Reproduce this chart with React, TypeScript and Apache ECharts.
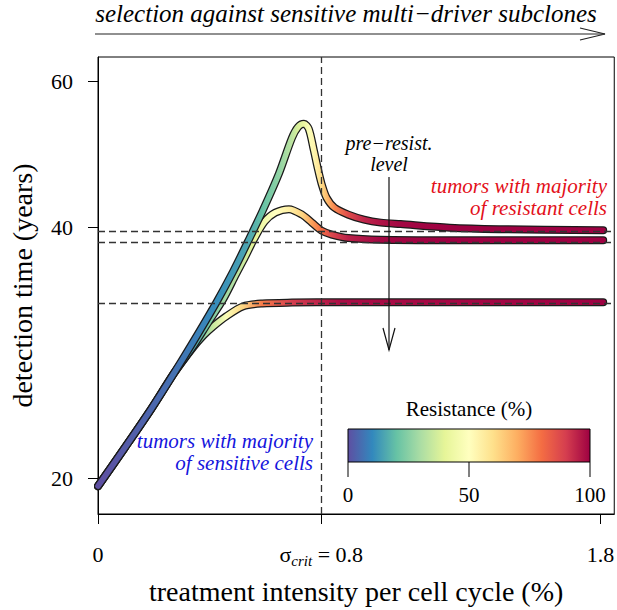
import React, { useEffect, useRef } from "react";
import * as echarts from "echarts";

// ---- data -----------------------------------------------------------
const xTicks = [0, 0.8, 1.8];
const yTicks = [20, 40, 60];
const legendTicks = [0, 50, 100];
const sigmaCrit = 0.8;
const preResistLevels = [39.71, 38.63, 32.55];

// curve A (highest peak)
const xA = [0, 0.095, 0.19, 0.272, 0.342, 0.424, 0.484, 0.537, 0.59, 0.648, 0.695, 0.717, 0.738, 0.755, 0.773, 0.787, 0.801, 0.819, 0.847, 0.897, 0.953, 1.013, 1.084, 1.26, 1.437, 1.81];
const yA = [19.56, 21.73, 24.2, 26.73, 29.2, 32.52, 35.43, 38.49, 41.93, 46.44, 51.3, 52.88, 53.33, 52.6, 49.62, 47.21, 45.17, 43.46, 42.28, 41.47, 40.91, 40.57, 40.4, 40.0, 39.84, 39.72];
const rA = [0, 2, 4, 6, 8, 11, 13, 15, 20, 26, 33, 38, 42, 48, 53, 57, 61, 67, 76, 87, 94, 97, 99, 100, 100, 100];

// curve B (middle)
const xB = [0, 0.095, 0.19, 0.272, 0.342, 0.395, 0.448, 0.494, 0.526, 0.558, 0.597, 0.635, 0.684, 0.731, 0.766, 0.801, 0.837, 0.897, 1.013, 1.26, 1.81];
const yB = [19.56, 21.73, 24.2, 26.73, 28.85, 30.77, 32.79, 35.14, 36.83, 38.7, 40.68, 41.7, 42.11, 41.47, 40.57, 39.68, 39.25, 38.87, 38.68, 38.63, 38.63];
const rB = [0, 2, 4, 7, 15, 22, 28, 32, 36, 40, 45, 50, 55, 62, 72, 80, 88, 95, 99, 100, 100];

// curve C (lowest)
const xC = [0, 0.095, 0.19, 0.272, 0.342, 0.378, 0.413, 0.459, 0.519, 0.589, 0.695, 0.872, 1.81];
const yC = [19.56, 21.73, 24.2, 26.73, 28.75, 29.69, 30.44, 31.29, 32.17, 32.43, 32.51, 32.55, 32.55];
const rC = [0, 2, 4, 7, 16, 25, 35, 48, 62, 78, 90, 98, 100];

const spectral = ["#5E4FA2", "#3288BD", "#66C2A5", "#ABDDA4", "#E6F598", "#FFFFBF", "#FEE08B", "#FDAE61", "#F46D43", "#D53E4F", "#9E0142"];

// ---- helpers --------------------------------------------------------
const FONT = "'Liberation Serif', 'DejaVu Serif', serif";

function hexToRgb(h: string) {
  const n = parseInt(h.slice(1), 16);
  return [(n >> 16) & 255, (n >> 8) & 255, n & 255];
}
function colorAt(r: number) {
  const t = Math.max(0, Math.min(100, r)) / 10;
  const i = Math.min(9, Math.floor(t));
  const f = t - i;
  const a = hexToRgb(spectral[i]);
  const b = hexToRgb(spectral[i + 1]);
  const c = a.map((v, k) => Math.round(v + (b[k] - v) * f));
  return `rgb(${c[0]},${c[1]},${c[2]})`;
}

function curveSeries(name: string, xs: number[], ys: number[], rs: number[], z: number) {
  const data = xs.map((x, i) => [x, Math.log(ys[i])]);
  const x0 = xs[0];
  const x1 = xs[xs.length - 1];
  const stops = xs.map((x, i) => ({ offset: (x - x0) / (x1 - x0), color: colorAt(rs[i]) }));
  const common = {
    type: "line",
    data,
    symbol: "none",
    showSymbol: false,
    smooth: 0.3,
    silent: true,
  };
  return [
    { ...common, name: name + " outline", z, lineStyle: { color: "#1a1a1a", width: 8, cap: "round", join: "round" } },
    {
      ...common,
      name,
      z: z + 1,
      lineStyle: { color: new echarts.graphic.LinearGradient(0, 0, 1, 0, stops), width: 5.5, cap: "round", join: "round" },
    },
  ];
}

export default function App() {
  const ref = useRef<HTMLDivElement>(null);

  useEffect(() => {
    if (!ref.current) return;
    const chart = echarts.init(ref.current, null, { renderer: "svg" });

    const yMin = Math.log(20) - 36 / 362;
    const yMax = Math.log(20) + 422 / 362;
    const xMax = 1.8496;

    const dashStyle = { color: "#333", width: 1.3, type: [7, 4] };

    const legX = 348, legY = 429, legW = 242, legH = 33;

    const txt = (x: number, y: number, text: string, font: string, fill: string, align: string, lineHeight?: number) => ({
      type: "text",
      x,
      y,
      z: 20,
      style: { text, font, fill, textAlign: align, textVerticalAlign: "middle", lineHeight },
    });

    const graphic: any[] = [
      // top annotation
      txt(346, 13, "selection against sensitive multi\u2212driver subclones", `italic 25px ${FONT}`, "#000", "center"),
      { type: "line", z: 20, shape: { x1: 95, y1: 34, x2: 605, y2: 34 }, style: { stroke: "#222", lineWidth: 1.2 } },
      { type: "polyline", z: 20, shape: { points: [[580, 28], [605, 34], [580, 40]] }, style: { stroke: "#222", lineWidth: 1.2, fill: "none" } },
      // pre-resist arrow
      txt(389, 153, "pre\u2212resist.\nlevel", `italic 20px ${FONT}`, "#000", "center", 21),
      { type: "line", z: 20, shape: { x1: 389, y1: 177, x2: 389, y2: 350 }, style: { stroke: "#111", lineWidth: 1.2 } },
      { type: "polyline", z: 20, shape: { points: [[383, 328], [389, 350], [395, 328]] }, style: { stroke: "#111", lineWidth: 1.2, fill: "none" } },
      // red labels
      txt(607, 197, "tumors with majority\nof resistant cells", `italic 21px ${FONT}`, "#e3101a", "right", 22),
      // blue labels
      txt(313, 452, "tumors with majority\nof sensitive cells", `italic 21px ${FONT}`, "#1515dd", "right", 22),
      // colour legend
      txt(legX + legW / 2, 409, "Resistance (%)", `21px ${FONT}`, "#000", "center"),
      {
        type: "rect",
        z: 20,
        shape: { x: legX, y: legY, width: legW, height: legH },
        style: {
          fill: new echarts.graphic.LinearGradient(0, 0, 1, 0, spectral.map((c, i) => ({ offset: i / (spectral.length - 1), color: c }))),
          stroke: "#000",
          lineWidth: 1,
        },
      },
    ];
    legendTicks.forEach((t) => {
      const px = legX + (t / 100) * legW;
      graphic.push({ type: "line", z: 20, shape: { x1: px, y1: legY + legH, x2: px, y2: legY + legH + 15 }, style: { stroke: "#000", lineWidth: 1 } });
      graphic.push(txt(px, 495, String(t), `21px ${FONT}`, "#000", "center"));
    });

    const option: any = {
      animation: false,
      grid: { left: 92, right: 1, top: 57, bottom: 95, show: true, borderColor: "#000", borderWidth: 1, backgroundColor: "transparent" },
      xAxis: {
        type: "value",
        min: 0,
        max: xMax,
        name: "treatment intensity per cell cycle (%)",
        nameLocation: "middle",
        nameGap: 63,
        nameTextStyle: { fontFamily: FONT, fontSize: 28, color: "#000" },
        axisLine: { show: true, onZero: false, lineStyle: { color: "#000", width: 1 } },
        axisTick: { show: true, inside: false, length: 10, lineStyle: { color: "#000", width: 1 }, customValues: xTicks },
        axisLabel: {
          show: true,
          customValues: xTicks,
          margin: 27,
          showMinLabel: true,
          showMaxLabel: true,
          fontFamily: FONT,
          fontSize: 22,
          color: "#000",
          formatter: (v: number) =>
            Math.abs(v - sigmaCrit) < 1e-9 ? `{g|\u03c3}{s|crit}{g| = ${sigmaCrit}}` : `{g|${v}}`,
          rich: {
            g: { fontFamily: FONT, fontSize: 22, lineHeight: 27, color: "#000" },
            s: { fontFamily: FONT, fontSize: 15, fontStyle: "italic", lineHeight: 15, verticalAlign: "bottom", color: "#000" },
          },
        },
        splitLine: { show: false },
      },
      yAxis: {
        type: "value",
        min: yMin,
        max: yMax,
        name: "detection time (years)",
        nameLocation: "middle",
        nameGap: 62,
        nameTextStyle: { fontFamily: FONT, fontSize: 28, color: "#000" },
        axisLine: { show: true, onZero: false, lineStyle: { color: "#000", width: 1 } },
        axisTick: { show: true, inside: false, length: 10, lineStyle: { color: "#000", width: 1 }, customValues: yTicks.map((v) => Math.log(v)) },
        axisLabel: {
          show: true,
          customValues: yTicks.map((v) => Math.log(v)),
          margin: 25,
          fontFamily: FONT,
          fontSize: 22,
          color: "#000",
          formatter: (v: number) => String(Math.round(Math.exp(v))),
        },
        splitLine: { show: false },
      },
      series: [
        ...curveSeries("C", xC, yC, rC, 3),
        ...curveSeries("B", xB, yB, rB, 5),
        ...curveSeries("A", xA, yA, rA, 7),
        {
          type: "line",
          name: "reference",
          data: [],
          silent: true,
          markLine: {
            z: 12,
            silent: true,
            symbol: ["none", "none"],
            label: { show: false },
            lineStyle: dashStyle,
            animation: false,
            data: [...preResistLevels.map((v) => ({ yAxis: Math.log(v) })), { xAxis: sigmaCrit }],
          },
        },
      ],
      graphic,
    };

    chart.setOption(option);
    return () => chart.dispose();
  }, []);

  return <div ref={ref} style={{ position: "absolute", left: 0, top: 0, width: 617, height: 610 }} />;
}
